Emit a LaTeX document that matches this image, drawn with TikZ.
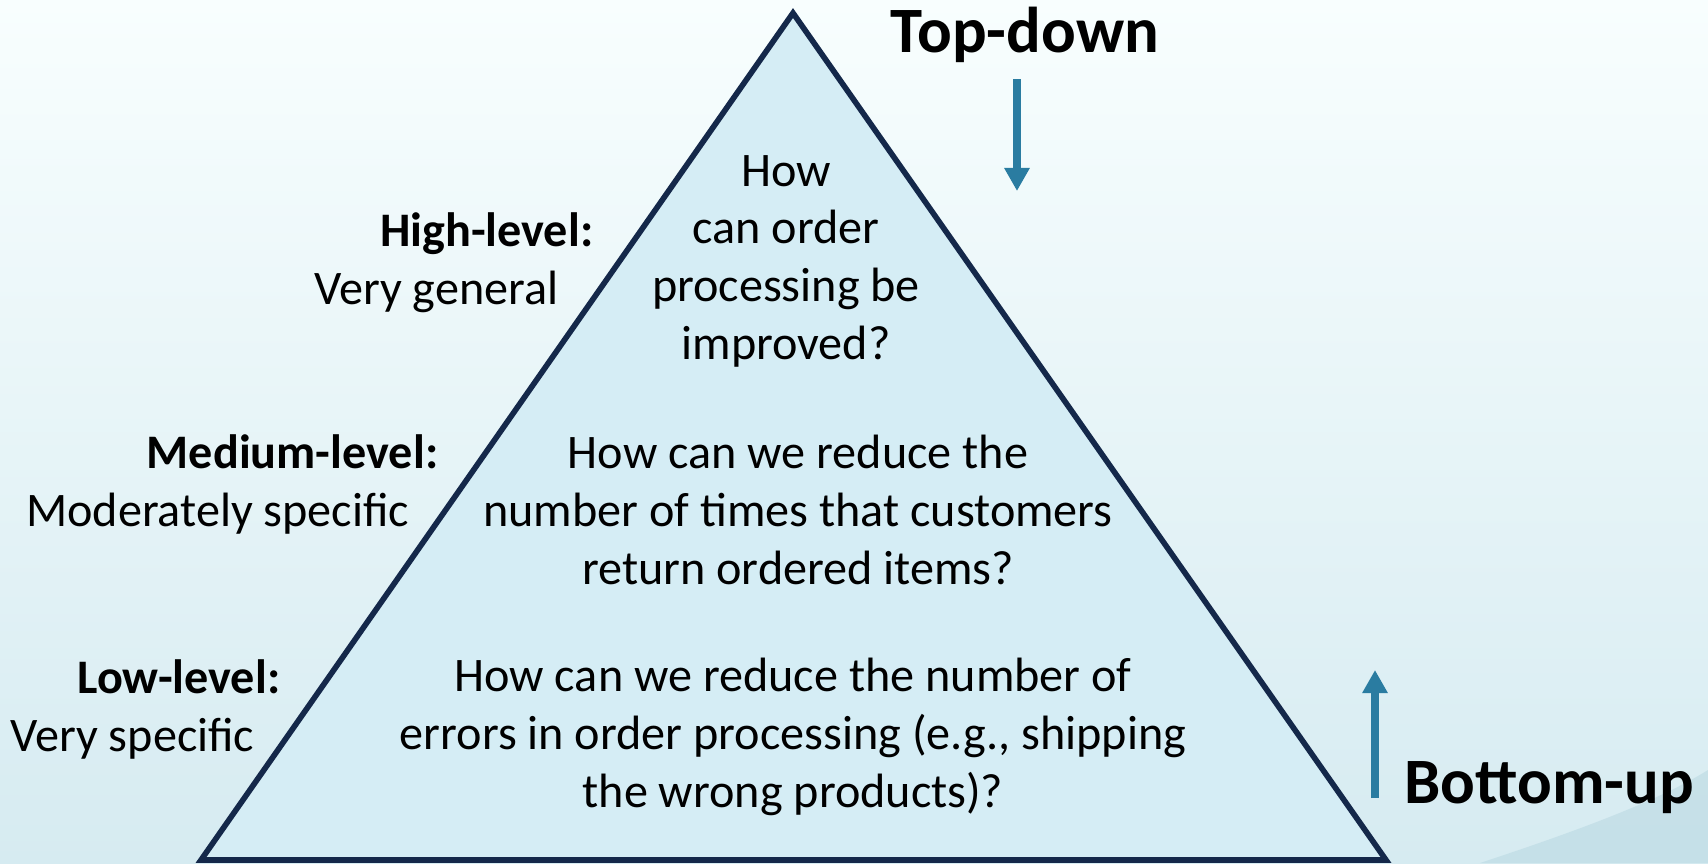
\documentclass[tikz,border=0pt]{standalone}
\usepackage{fontspec}
\setmainfont{Carlito}
\usetikzlibrary{arrows.meta}

\definecolor{pyrfill}{HTML}{D5EDF5}
\definecolor{pyrline}{HTML}{14284A}
\definecolor{arrowblue}{HTML}{2A7CA1}
\definecolor{bgtop}{HTML}{F8FEFE}
\definecolor{bgbottom}{HTML}{D6EBF1}
\definecolor{swoosh}{HTML}{A6CCD8}

\begin{document}
\begin{tikzpicture}
  [x=0.01cm,y=-0.01cm,
    every node/.style={inner sep=0pt},
    question/.style={align=center,font=\fontsize{13.7}{16.4}\selectfont},
    levelname/.style={anchor=base east,font=\fontsize{13.7}{16}\selectfont\bfseries},
    leveldesc/.style={anchor=base east,font=\fontsize{13.7}{16}\selectfont},
    direction/.style={anchor=base,font=\fontsize{18.4}{22}\selectfont\bfseries},
    flow/.style={arrowblue,line width=2.2pt,-{Triangle[width=0.24cm,length=0.23cm]}},
]
  % background
  \shade[top color=bgtop,bottom color=bgbottom] (0,0) rectangle (1708,863);
  \fill[swoosh,opacity=0.35] (1480,863) .. controls (1580,830) and (1660,800) .. (1708,770) -- (1708,863) -- cycle;
  \useasboundingbox (0,0) rectangle (1708,863);

  % pyramid
  \coordinate (apex) at (793,13);
  \coordinate (left) at (201,860);
  \coordinate (right) at (1386,860);
  \draw[pyrline,fill=pyrfill,line width=1.6pt,line join=miter] (apex) -- (right) -- (left) -- cycle;

  % questions
  \node[question] (high) at (786,261) {How\\can order\\processing be\\improved?};
  \node[question] (medium) at (798,510) {How can we reduce the\\number of times that customers\\return ordered items?};
  \node[question] (low) at (793,737) {How can we reduce the number of\\errors in order processing (e.g., shipping\\the wrong products)?};

  % levels
  \node[levelname] (highname) at (594,246) {High-level:};
  \node[leveldesc] (highdesc) at (559,304) {Very general};
  \node[levelname] (medname) at (439,468) {Medium-level:};
  \node[leveldesc] (meddesc) at (410,526) {Moderately specific};
  \node[levelname] (lowname) at (281,693) {Low-level:};
  \node[leveldesc] (lowdesc) at (255,751) {Very specific};

  % directions
  \node[direction] (topdown) at (1025,52) {Top-down};
  \node[direction] (bottomup) at (1549,803) {Bottom-up};
  \coordinate (tdstart) at (1017,79);
  \coordinate (tdend) at (1017,191);
  \coordinate (bustart) at (1375,798);
  \coordinate (buend) at (1375,670);
  \draw[flow] (tdstart) -- (tdend);
  \draw[flow] (bustart) -- (buend);
\end{tikzpicture}
\end{document}
